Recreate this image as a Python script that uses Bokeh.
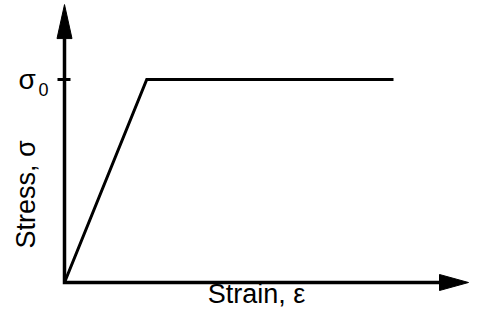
from bokeh.plotting import figure
from bokeh.models import Range1d, Label
from bokeh.embed import file_html
from bokeh.resources import INLINE
import math

# ---- data (idealised elastic / perfectly plastic curve) ----
strain = [0.0, 0.25, 1.0]
stress = [0.0, 1.0, 1.0]
x_label = "Strain, ε"
y_label = "Stress, σ"
tick_values = [1.0]
tick_symbol = "σ"
tick_sub = "0"
x_axis_end = 1.228
y_axis_end = 1.369

# ---- layout helpers (pixels) ----
W, H = 469, 308
OX, OY = 64, 282          # origin position in the figure, px from left / top
SX, SY = 329.0, 203.0     # px per data unit

def dx(px):
    return px / SX

def dy(px):
    return px / SY

def shift(fs):
    # observed downward offset of alphabetic-baseline labels, px
    return 0.33 * fs

FONT = "Liberation Sans"

p = figure(width=W, height=H,
           x_range=Range1d(-OX / SX, (W - OX) / SX),
           y_range=Range1d(-(H - OY) / SY, OY / SY),
           x_axis_type=None, y_axis_type=None,
           output_backend="svg", toolbar_location=None, min_border=0)
p.grid.visible = False
p.outline_line_color = None
p.background_fill_color = "white"
p.border_fill_color = "white"

AXW = 3.5
HL_Y, HW_Y = 34, 15
HL_X, HW_X = 29, 16

p.line([x_axis_end - dx(HL_X), 0, 0], [0, 0, y_axis_end - dy(HL_Y)],
       line_width=AXW, line_color="black", line_join="miter")
p.patches(
    [[x_axis_end, x_axis_end - dx(HL_X), x_axis_end - dx(HL_X)],
     [0, -dx(HW_Y / 2), dx(HW_Y / 2)]],
    [[0, dy(HW_X / 2), -dy(HW_X / 2)],
     [y_axis_end, y_axis_end - dy(HL_Y), y_axis_end - dy(HL_Y)]],
    fill_color="black", line_color="black", line_width=1)

for t in tick_values:
    p.segment(x0=[-dx(7)], y0=[t], x1=[dx(6)], y1=[t], line_width=3, line_color="black")

p.line(strain, stress, line_width=3, line_color="black", line_join="miter")

for t in tick_values:
    p.add_layout(Label(x=-dx(46), y=t - dy(9 - shift(28)), text=tick_symbol, text_font=FONT,
                       text_font_size="28px", text_color="black",
                       text_align="left", text_baseline="alphabetic"))
    p.add_layout(Label(x=-dx(26), y=t - dy(16 - shift(18)), text=tick_sub, text_font=FONT,
                       text_font_size="18px", text_color="black",
                       text_align="left", text_baseline="alphabetic"))

p.add_layout(Label(x=0.5836, y=-dy(20 - shift(27)), text=x_label, text_font=FONT,
                   text_font_size="27px", text_color="black",
                   text_align="center", text_baseline="alphabetic"))
p.add_layout(Label(x=-dx(30 + shift(27)), y=dy(88), text=y_label, text_font=FONT,
                   text_font_size="27px", text_color="black", angle=math.pi / 2,
                   text_align="center", text_baseline="alphabetic"))

open("out.html", "w").write(file_html(p, INLINE))
